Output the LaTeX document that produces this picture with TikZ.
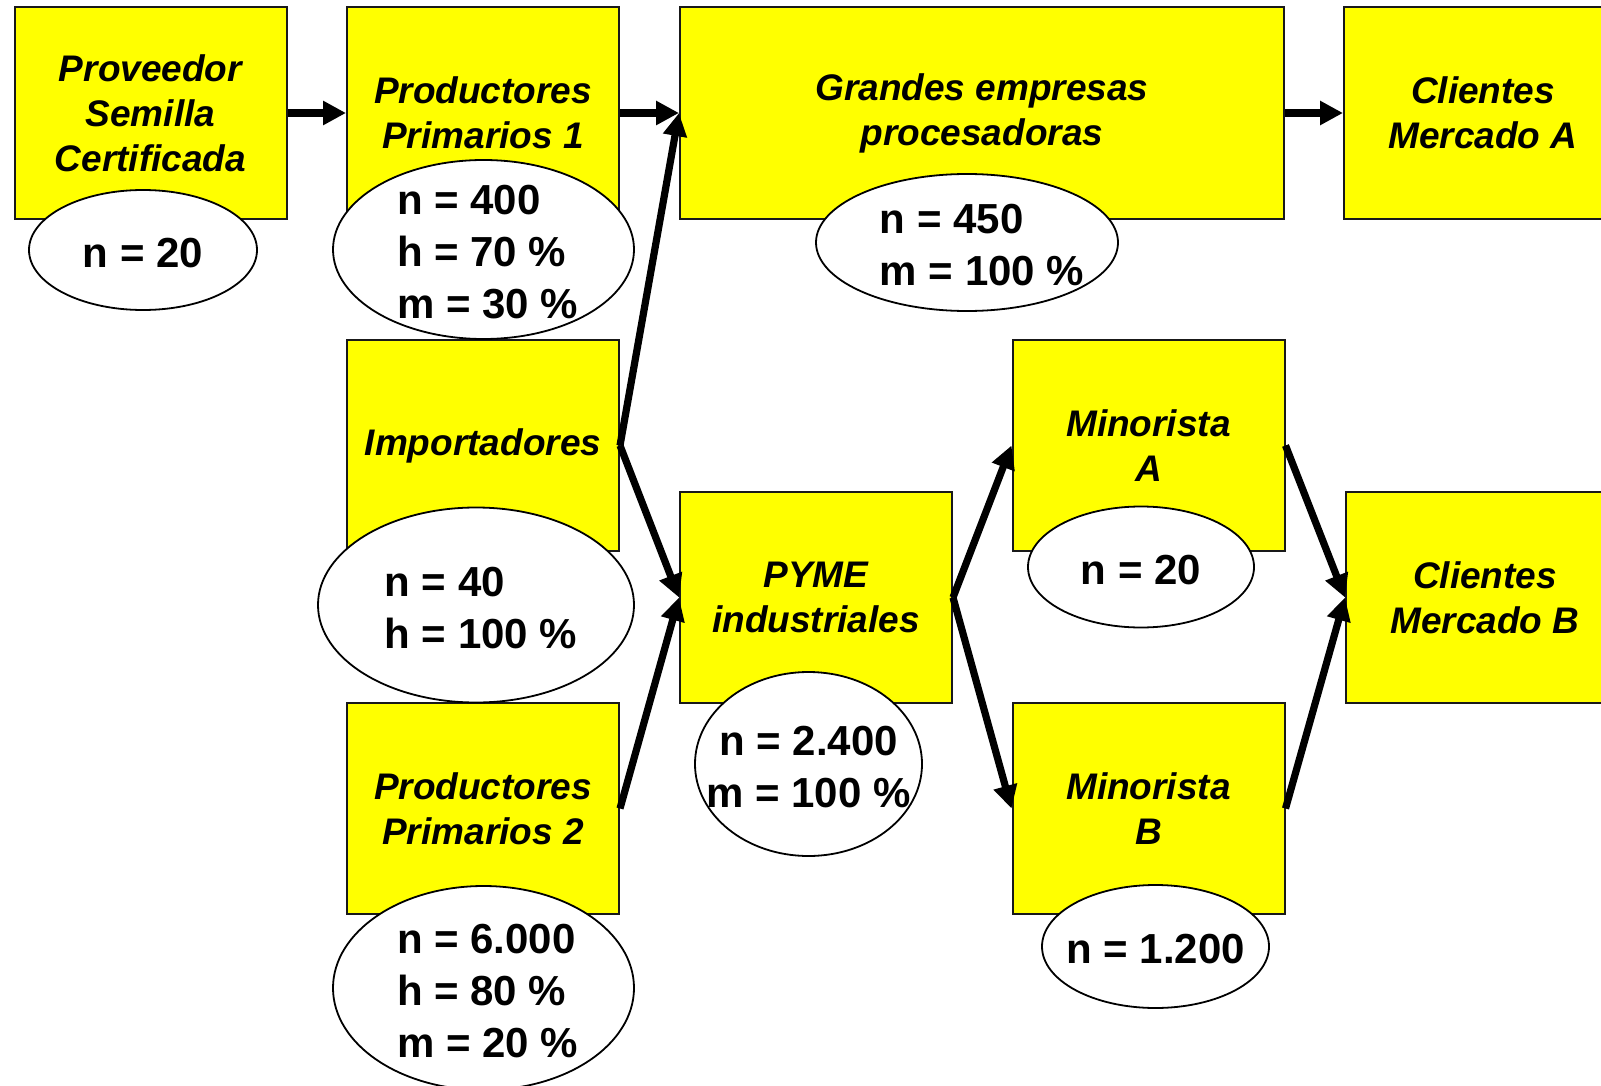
\documentclass[tikz,border=0pt]{standalone}
\usepackage{fontspec}
\setmainfont{Liberation Sans}
\usepackage{xcolor}
\usepackage{tikz}
\usetikzlibrary{arrows.meta,positioning,shapes.geometric}
\definecolor{BoxYellow}{RGB}{255,255,0}
\definecolor{LineDark}{RGB}{25,25,25}

\begin{document}
\begin{tikzpicture}[
  x=0.5pt, y=-0.5pt,
  box/.style={draw=LineDark, line width=1pt, fill=BoxYellow, align=center, inner sep=0pt, minimum width=136pt, minimum height=105.5pt, font=\fontsize{18.5}{22.5}\selectfont\bfseries\itshape},
  count/.style={ellipse, draw=black, line width=0.9pt, fill=white, inner sep=0pt},
  counttext/.style={align=left, inner sep=0pt, yshift=-1.5pt, font=\fontsize{21}{26}\selectfont\bfseries},
  arrow/.style={-{Triangle[length=11.5pt,width=11.5pt]}, line width=3.6pt}
]
\clip (0,0) rectangle (1601,1086);

\node[box] (prov) at (150.5,113) {Proveedor\\ Semilla\\ Certificada};
\node[box] (prim1) at (483,113) {Productores\\ Primarios 1};
\node[box, minimum width=302pt] (grandes) at (982,113) {Grandes empresas\\ procesadoras};
\node[box, minimum width=139pt] (cliA) at (1483,113) {Clientes\\ Mercado A};
\node[box] (import) at (483,445.5) {Importadores};
\node[box] (prim2) at (483,808.5) {Productores\\ Primarios 2};
\node[box] (pyme) at (816,597.5) {PYME\\ industriales};
\node[box] (minA) at (1148.5,445.5) {Minorista\\ A};
\node[box] (minB) at (1148.5,808.5) {Minorista\\ B};
\node[box, minimum width=139pt] (cliB) at (1485,597.5) {Clientes\\ Mercado B};

\node[count, minimum width=114pt, minimum height=60pt, label={[counttext]center:n = 20}] (nProv) at (143,250) {};
\node[count, minimum width=150.5pt, minimum height=89.5pt, label={[counttext, xshift=2pt]center:n = 400\\ h = 70 \%\\ m = 30 \%}] (nPrim1) at (483.5,249.5) {};
\node[count, minimum width=151pt, minimum height=68.5pt, label={[counttext, xshift=7.5pt]center:n = 450\\ m = 100 \%}] (nGrandes) at (967,242.5) {};
\node[count, minimum width=158pt, minimum height=97.5pt, label={[counttext, xshift=2.5pt]center:n = 40\\ h = 100 \%}] (nImport) at (476,605) {};
\node[count, minimum width=150.5pt, minimum height=102pt, label={[counttext, xshift=2pt]center:n = 6.000\\ h = 80 \%\\ m = 20 \%}] (nPrim2) at (483.5,988) {};
\node[count, minimum width=113.5pt, minimum height=92pt, label={[counttext, align=center]center:n = 2.400\\ m = 100 \%}] (nPyme) at (808.5,764) {};
\node[count, minimum width=113pt, minimum height=60.5pt, label={[counttext]center:n = 20}] (nMinA) at (1141,567) {};
\node[count, minimum width=113.5pt, minimum height=61.5pt, label={[counttext]center:n = 1.200}] (nMinB) at (1155.5,946.5) {};

\draw[arrow] (prov.east) -- (prim1.west);
\draw[arrow] (prim1.east) -- (grandes.west);
\draw[arrow] (grandes.east) -- (cliA.west);
\draw[arrow] (import.east) -- (grandes.west);
\draw[arrow] (import.east) -- (pyme.west);
\draw[arrow] (prim2.east) -- (pyme.west);
\draw[arrow] (pyme.east) -- (minA.west);
\draw[arrow] (pyme.east) -- (minB.west);
\draw[arrow] (minA.east) -- (cliB.west);
\draw[arrow] (minB.east) -- (cliB.west);
\end{tikzpicture}
\end{document}
